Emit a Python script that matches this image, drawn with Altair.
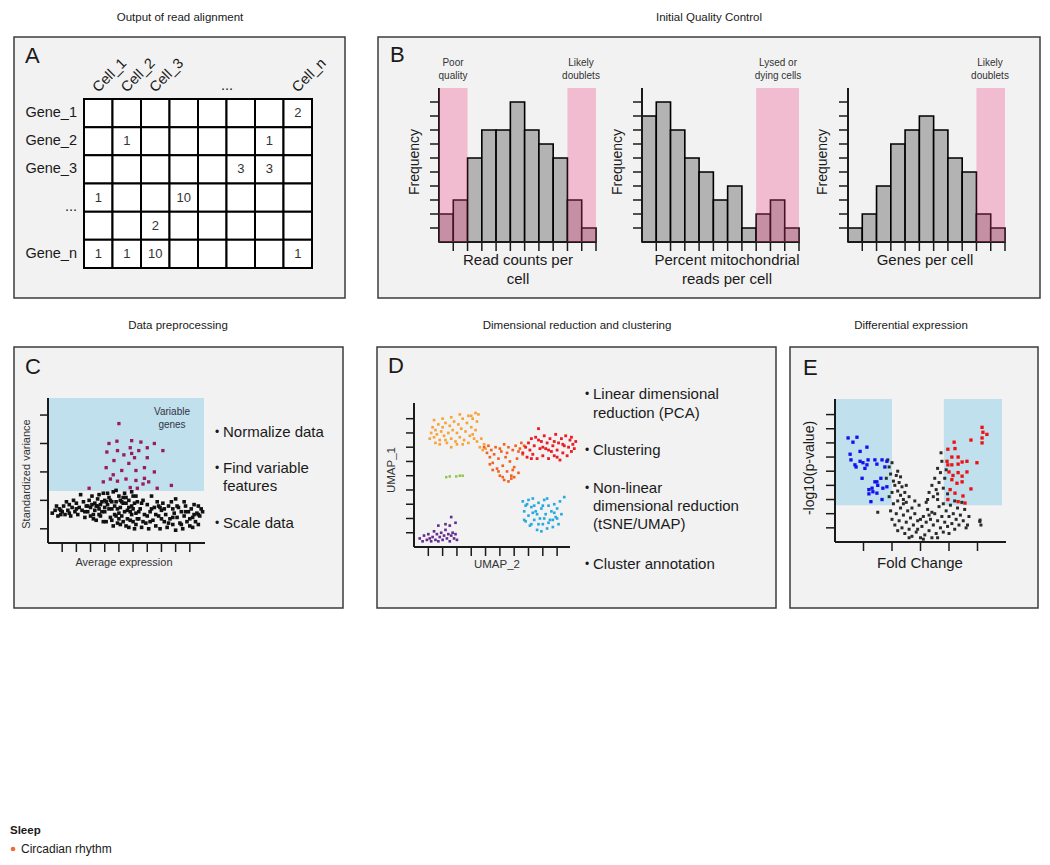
import altair as alt
import pandas as pd

FONT = "Liberation Sans"
INK = "#1a1a1a"

# ---------------- Panel A: count matrix ----------------
row_ids = ["r1", "r2", "r3", "r4", "r5", "r6"]
row_labels = ["Gene_1", "Gene_2", "Gene_3", "...", "", "Gene_n"]
col_ids = ["c1", "c2", "c3", "c4", "c5", "c6", "c7", "c8"]
col_labels = ["Cell_1", "Cell_2", "Cell_3", "", "", "", "", "Cell_n"]
count_rows = ["r1", "r2", "r2", "r3", "r3", "r4", "r4", "r5", "r6", "r6", "r6", "r6"]
count_cols = ["c8", "c2", "c7", "c6", "c7", "c1", "c4", "c3", "c1", "c2", "c3", "c8"]
count_vals = [2, 1, 1, 3, 3, 1, 10, 2, 1, 1, 10, 1]

# ---------------- Panel B: QC histograms ----------------
read_counts_hist = [2, 3, 6, 8, 8, 10, 8, 7, 6, 3, 1]
mito_hist = [9, 10, 8, 6, 5, 3, 4, 1, 2, 3, 1]
genes_hist = [1, 2, 4, 7, 8, 9, 8, 6, 5, 2, 1]
read_counts_flags = [(0, 2), (9, 11)]
mito_flags = [(8, 11)]
genes_flags = [(9, 11)]

# ---------------- Panel C: variable features ----------------
c_variable = [(5.0, 8.4), (4.86, 7.16), (4.3, 7.0), (4.15, 6.4), (4.9, 6.5), (5.35, 6.2), (4.65, 5.8),
              (5.9, 7.2), (5.8, 6.7), (5.9, 6.3), (6.1, 6.0), (6.55, 7.1), (6.4, 6.5), (7.0, 6.7),
              (7.5, 7.0), (7.0, 6.0), (8.1, 6.5), (5.7, 5.6), (4.1, 5.3), (5.2, 5.1), (6.2, 5.1),
              (6.8, 5.3), (7.5, 5.0), (4.6, 4.8), (3.9, 4.3), (4.4, 4.5), (4.9, 4.35), (5.5, 4.5),
              (6.2, 4.4), (6.8, 4.55), (7.1, 4.3), (6.7, 4.15), (5.8, 3.9), (2.9, 3.85), (7.7, 3.85),
              (8.7, 4.05), (6.3, 3.85)]
c_other = [(0.3, 2.1), (0.5, 2.3), (0.7, 1.9), (0.8, 2.4), (1.0, 2.2), (1.1, 2.6), (1.2, 2.0), (1.4, 2.3),
           (1.5, 2.7), (1.6, 1.9), (1.7, 2.5), (1.9, 2.2), (2.0, 2.8), (2.1, 2.0), (2.2, 2.5), (2.4, 2.3),
           (2.5, 2.9), (2.6, 1.8), (2.7, 2.6), (1.3, 2.9), (0.9, 2.0), (1.8, 3.0), (2.3, 3.4), (0.6, 2.6),
           (2.8, 2.2), (2.9, 3.0), (3.0, 2.5), (3.1, 3.3), (3.2, 2.0), (3.3, 2.8), (3.4, 1.6), (3.5, 3.1),
           (3.6, 2.4), (3.7, 1.9), (3.8, 2.9), (3.9, 3.5), (4.0, 2.2), (4.1, 1.5), (4.2, 2.7), (4.3, 3.2),
           (4.4, 1.8), (4.5, 2.4), (4.6, 3.6), (4.7, 2.0), (4.8, 2.9), (4.9, 1.4), (5.0, 3.3), (5.1, 2.5),
           (5.2, 1.9), (5.3, 2.8), (5.4, 3.5), (5.5, 1.2), (5.6, 2.3), (5.7, 3.0), (5.8, 1.6), (5.9, 2.6),
           (6.0, 3.3), (6.1, 1.0), (6.2, 2.1), (6.3, 2.9), (3.5, 2.6), (4.0, 3.0), (4.5, 1.6), (5.0, 2.1),
           (5.5, 2.8), (6.0, 1.5), (3.2, 1.7), (4.8, 3.7), (5.7, 1.1), (6.2, 1.3), (4.3, 2.4), (5.3, 1.5),
           (3.8, 2.2), (5.9, 3.6), (4.6, 1.2), (5.1, 3.0), (6.4, 1.7), (6.5, 2.4), (6.6, 1.1), (6.7, 3.0),
           (6.8, 2.0), (6.9, 1.4), (7.0, 2.7), (7.1, 1.0), (7.2, 2.2), (7.3, 3.3), (7.4, 1.6), (7.5, 2.5),
           (7.6, 1.2), (7.7, 2.9), (7.8, 1.9), (7.9, 1.0), (8.0, 2.3), (8.1, 2.8), (8.2, 1.5), (8.3, 2.0),
           (8.4, 1.1), (8.5, 2.6), (8.6, 1.7), (8.7, 2.9), (8.8, 1.3), (8.9, 2.1), (9.0, 0.9), (9.1, 1.8),
           (9.2, 2.5), (9.3, 1.4), (9.4, 2.2), (9.5, 1.0), (9.6, 1.9), (9.7, 2.6), (9.8, 1.5), (9.9, 2.2),
           (10.0, 1.2), (10.1, 2.4), (10.2, 1.8), (10.3, 2.7), (10.4, 1.5), (10.5, 2.1), (10.6, 2.6),
           (10.7, 1.9), (10.8, 2.4), (10.9, 2.2), (7.2, 1.5), (8.0, 1.7), (8.8, 2.4), (9.6, 2.9),
           (10.2, 1.1), (7.8, 2.6), (9.0, 3.1), (6.6, 2.8), (10.6, 1.3),
           (3.0, 1.9), (3.3, 2.3), (3.6, 3.4), (3.9, 1.5), (4.2, 3.5), (4.5, 2.9), (4.8, 1.9), (5.1, 1.3),
           (5.4, 2.2), (5.7, 2.5), (6.0, 2.4), (6.3, 1.7), (4.4, 3.0), (4.7, 2.6), (5.0, 1.7), (5.3, 3.2),
           (5.6, 1.7), (5.9, 2.0), (6.2, 3.3), (3.6, 2.0), (3.4, 2.6), (4.1, 2.9), (4.9, 2.4), (5.2, 2.9),
           (5.5, 3.2), (5.8, 2.2), (6.1, 2.8), (6.4, 2.2), (6.7, 1.5), (7.0, 1.9), (7.3, 2.4), (7.6, 2.0),
           (7.9, 2.5), (8.2, 2.4), (8.5, 1.4), (8.8, 1.8), (9.1, 2.6), (9.4, 1.3), (9.7, 2.2), (10.0, 1.7),
           (10.3, 2.0), (10.6, 2.0), (2.0, 2.4), (1.5, 2.1), (0.9, 2.3), (2.6, 2.2), (2.8, 2.6), (3.1, 2.7),
           (3.7, 2.7), (4.0, 2.5)]
c_threshold = 3.65

# ---------------- Panel D: UMAP clusters ----------------
d_orange = [(1.2, 8.0), (1.3, 8.4), (1.4, 7.7), (1.5, 8.2), (1.6, 7.9), (1.7, 8.6), (1.8, 7.5), (1.9, 8.1),
            (2.0, 8.4), (2.1, 7.8), (2.2, 8.7), (2.3, 7.3), (2.4, 8.0), (2.5, 8.5), (2.6, 7.6), (2.7, 8.2),
            (2.8, 8.8), (2.9, 7.4), (3.0, 8.0), (3.1, 8.6), (3.2, 7.7), (3.3, 8.3), (3.4, 9.0), (3.5, 7.5),
            (3.6, 8.1), (3.7, 8.7), (3.8, 9.2), (3.9, 7.8), (4.0, 8.4), (4.1, 9.0), (4.2, 7.6), (4.3, 8.2),
            (4.4, 8.8), (4.5, 9.3), (4.3, 9.4), (4.0, 9.2), (1.4, 8.9), (2.0, 9.0), (2.6, 9.1), (3.2, 9.3),
            (1.8, 7.2), (2.6, 7.0), (3.4, 7.2), (4.4, 7.4), (4.6, 7.0), (4.8, 6.8), (4.9, 7.2), (5.0, 6.9),
            (4.7, 7.6), (1.1, 7.6), (1.5, 7.3), (3.0, 7.2), (3.8, 7.3), (2.2, 7.5), (4.1, 7.9)]
d_redorange = [(4.9, 7.0), (5.1, 6.6), (5.2, 7.1), (5.3, 6.3), (5.4, 6.8), (5.5, 5.9), (5.6, 6.5), (5.7, 7.0),
               (5.8, 5.5), (5.9, 6.2), (6.0, 5.0), (6.1, 6.7), (6.2, 5.7), (6.3, 4.7), (6.4, 6.3), (6.5, 5.3),
               (6.6, 4.6), (6.7, 6.0), (6.8, 5.0), (6.9, 6.8), (7.0, 5.6), (7.1, 7.1), (7.2, 6.2), (7.3, 5.2),
               (7.4, 6.9), (7.5, 7.3), (7.6, 6.5), (7.7, 7.1), (6.0, 6.9), (6.3, 7.2), (6.6, 7.0), (5.5, 5.4),
               (6.8, 4.8), (7.0, 4.9), (5.9, 5.3), (6.5, 6.6), (6.2, 4.9), (6.9, 5.4), (5.3, 5.8), (7.3, 6.7)]
d_red = [(7.6, 6.6), (7.8, 7.0), (7.9, 6.3), (8.0, 7.3), (8.1, 6.8), (8.2, 7.6), (8.3, 6.5), (8.4, 7.1),
         (8.5, 7.7), (8.6, 6.2), (8.7, 8.3), (8.8, 6.9), (8.9, 7.4), (9.0, 6.4), (9.1, 7.8), (9.2, 6.9),
         (9.3, 7.3), (9.4, 6.2), (9.5, 7.6), (9.6, 6.7), (9.7, 7.1), (9.8, 6.4), (9.9, 7.9), (10.0, 6.8),
         (10.1, 7.3), (10.2, 6.1), (10.3, 7.6), (10.4, 6.6), (10.5, 7.1), (10.6, 7.8), (10.7, 6.4),
         (10.8, 7.0), (10.9, 7.5), (11.0, 6.7), (11.1, 7.2), (11.2, 6.9), (11.3, 7.4), (8.2, 6.2),
         (9.0, 7.0), (9.8, 7.4), (10.4, 7.2), (10.0, 6.3), (8.7, 7.5), (9.4, 6.8), (11.0, 7.7)]
d_green = [(2.25, 4.9), (2.5, 4.95), (2.95, 4.95), (3.2, 5.0), (3.4, 5.0)]
d_blue = [(7.6, 3.2), (7.7, 2.5), (7.8, 1.8), (7.9, 3.0), (8.0, 2.2), (8.1, 1.5), (8.2, 2.8), (8.3, 3.4),
          (8.4, 1.9), (8.5, 2.5), (8.6, 1.2), (8.7, 3.1), (8.8, 2.0), (8.9, 2.7), (9.0, 1.6), (9.1, 3.3),
          (9.2, 2.3), (9.3, 1.3), (9.4, 2.9), (9.5, 1.9), (9.6, 2.5), (9.7, 1.4), (9.8, 3.0), (9.9, 2.1),
          (10.0, 2.7), (10.1, 1.6), (10.2, 3.2), (10.3, 2.3), (10.5, 3.5), (7.8, 2.9), (8.2, 1.6),
          (8.6, 2.3), (9.0, 2.9), (9.4, 1.7), (9.8, 2.4), (8.0, 3.3), (8.4, 2.9), (8.9, 1.1), (9.3, 3.4),
          (9.7, 1.9), (7.7, 1.9), (8.3, 2.4), (9.1, 2.0), (10.0, 2.0), (8.7, 1.6)]
d_purple = [(0.4, 0.6), (0.6, 0.4), (0.7, 0.8), (0.9, 0.5), (1.0, 0.9), (1.2, 0.4), (1.3, 0.7), (1.4, 1.1),
            (1.5, 0.5), (1.6, 0.9), (1.7, 0.4), (1.8, 0.7), (1.9, 1.0), (2.0, 0.5), (2.1, 0.8), (2.2, 1.2),
            (2.3, 0.6), (2.4, 0.9), (2.5, 0.4), (2.6, 0.8), (2.8, 0.6), (2.9, 0.9), (3.0, 0.5), (1.7, 1.5),
            (2.2, 1.6), (2.5, 1.5), (2.9, 1.7), (2.6, 2.1), (1.1, 0.6), (2.7, 1.0)]

# ---------------- Panel E: volcano ----------------
e_down = [(0.46, 7.35), (0.77, 7.40), (0.63, 7.05), (0.88, 6.40), (1.12, 6.70), (0.53, 6.20), (0.56, 5.80),
          (0.70, 5.45), (0.88, 5.70), (0.98, 5.60), (1.12, 5.45), (1.16, 5.80), (1.40, 5.80), (1.47, 5.50),
          (1.65, 5.80), (1.82, 5.70), (1.75, 5.30), (0.95, 4.50), (1.40, 4.25), (1.50, 4.00), (1.61, 4.50),
          (1.68, 3.80), (1.19, 3.70), (1.33, 3.55), (1.47, 3.45), (1.19, 3.40), (1.30, 3.80), (1.65, 3.00),
          (1.26, 2.85), (1.82, 3.90), (1.47, 4.25), (0.74, 5.30), (1.05, 5.20)]
e_up = [(5.16, 8.10), (5.19, 7.75), (5.33, 7.60), (5.16, 7.35), (5.16, 7.00), (4.77, 7.20), (4.18, 7.05),
        (4.21, 6.60), (3.96, 6.55), (4.10, 6.00), (4.32, 6.00), (3.93, 5.70), (4.10, 5.45), (4.32, 5.50),
        (4.46, 5.65), (4.63, 5.70), (4.98, 5.60), (4.00, 4.95), (4.14, 4.70), (4.32, 4.90), (4.46, 4.65),
        (4.63, 4.95), (4.10, 4.40), (4.28, 4.15), (4.46, 4.25), (4.77, 3.75), (4.04, 3.70), (4.49, 3.25),
        (3.96, 3.00), (4.32, 2.85), (4.56, 2.75), (4.21, 3.45), (3.96, 5.45)]
e_ns = [(1.85, 5.8), (1.9, 5.3), (1.95, 4.8), (2.0, 5.6), (2.05, 4.3), (2.1, 4.0), (2.15, 4.7), (2.2, 3.6),
        (2.25, 4.2), (2.3, 3.3), (2.35, 3.9), (2.4, 3.0), (2.45, 3.5), (2.5, 2.8), (2.0, 3.5), (1.9, 3.2),
        (2.3, 4.6), (2.6, 3.2), (1.8, 4.5), (2.5, 4.0), (2.2, 5.0), (1.5, 2.1),
        (1.95, 2.2), (2.0, 1.6), (2.05, 2.7), (2.1, 1.2), (2.15, 2.0), (2.2, 0.8), (2.25, 1.5), (2.3, 2.4),
        (2.35, 1.0), (2.4, 1.9), (2.45, 0.6), (2.5, 1.4), (2.55, 2.2), (2.6, 0.9), (2.65, 1.7), (2.7, 0.4),
        (2.75, 1.2), (2.8, 2.0), (2.85, 0.7), (2.9, 1.5), (2.95, 2.6), (3.0, 0.3), (3.05, 1.1), (3.1, 1.8),
        (3.15, 0.5), (3.2, 1.4), (3.25, 2.3), (3.3, 0.8), (3.35, 1.6), (3.4, 0.3), (3.45, 1.2), (3.5, 2.0),
        (3.55, 0.6), (3.6, 1.5), (3.65, 2.5), (3.7, 1.0), (3.75, 1.8), (3.8, 0.7), (3.85, 1.4), (3.9, 2.2),
        (3.95, 1.1), (4.0, 1.8), (4.05, 2.6), (4.1, 1.3), (4.15, 2.0), (4.2, 0.9), (4.25, 1.6), (4.3, 2.4),
        (4.35, 1.2), (4.4, 1.9), (4.45, 2.8), (4.5, 1.5), (4.55, 2.3), (4.6, 1.0), (2.4, 2.7), (2.8, 2.9),
        (3.2, 2.8), (3.6, 3.0), (2.6, 0.3), (3.0, 1.6), (3.4, 2.1), (3.8, 2.7), (4.2, 2.9), (3.1, 0.2),
        (2.9, 0.9), (3.6, 0.3), (2.7, 2.4), (4.7, 1.8), (4.65, 1.2), (3.3, 1.9), (2.2, 2.9), (4.0, 0.6),
        (3.72, 6.3), (3.75, 5.7), (3.6, 5.2), (3.7, 4.9), (3.5, 4.5), (3.65, 4.2), (3.4, 4.0), (3.55, 3.7),
        (3.3, 3.5), (3.8, 3.8), (3.45, 3.2), (3.85, 4.5), (3.9, 5.1), (3.6, 3.4), (3.25, 3.0), (3.95, 3.4),
        (5.09, 1.55), (5.12, 1.2), (5.08, 1.45)]
e_sig_y = 2.6
e_fc_low = 2.0
e_fc_high = 3.82

legend_title = "Sleep"
legend_items = ["Circadian rhythm"]

# ======================= helpers =======================
ONE = pd.DataFrame({"k": [0]})


def text(s, x, y, size=12, align="center", baseline="middle", angle=0, weight="normal", color=INK):
    return alt.Chart(ONE).mark_text(
        text=s, font=FONT, fontSize=size, align=align, baseline=baseline,
        angle=angle, fontWeight=weight, color=color
    ).encode(x=alt.value(x), y=alt.value(y))


def box(x1, y1, x2, y2):
    return alt.Chart(ONE).mark_rect(fill="#f2f2f2", stroke="#3c3c3c", strokeWidth=1.5).encode(
        x=alt.value(x1), x2=alt.value(x2), y=alt.value(y1), y2=alt.value(y2))


def line(x1, y1, x2, y2, w=2.0):
    return alt.Chart(ONE).mark_rule(color=INK, strokeWidth=w).encode(
        x=alt.value(x1), x2=alt.value(x2), y=alt.value(y1), y2=alt.value(y2))


def sc(domain, rng):
    return alt.Scale(domain=domain, range=rng, nice=False, zero=False)


def xticks(vals, xs, y1, y2, w=1.5):
    return alt.Chart(pd.DataFrame({"t": vals})).mark_rule(color=INK, strokeWidth=w).encode(
        x=alt.X("t:Q", scale=xs, axis=None), y=alt.value(y1), y2=alt.value(y2))


def yticks(vals, ys, x1, x2, w=1.5):
    return alt.Chart(pd.DataFrame({"t": vals})).mark_rule(color=INK, strokeWidth=w).encode(
        y=alt.Y("t:Q", scale=ys, axis=None), x=alt.value(x1), x2=alt.value(x2))


def points(pairs, color, xs, ys, size=8):
    df = pd.DataFrame(pairs, columns=["x", "y"])
    return alt.Chart(df).mark_square(size=size, color=color, opacity=1, strokeWidth=0).encode(
        x=alt.X("x:Q", scale=xs, axis=None), y=alt.Y("y:Q", scale=ys, axis=None))


def region(x0, x1, y0, y1, xs, ys, color, opacity=1.0):
    df = pd.DataFrame({"x0": [x0], "x1": [x1], "y0": [y0], "y1": [y1]})
    return alt.Chart(df).mark_rect(color=color, opacity=opacity, strokeWidth=0).encode(
        x=alt.X("x0:Q", scale=xs, axis=None), x2="x1:Q",
        y=alt.Y("y0:Q", scale=ys, axis=None), y2="y1:Q")


def hist(counts, xs, ys):
    df = pd.DataFrame({"bin": list(range(len(counts))), "count": counts})
    return alt.Chart(df).transform_calculate(b1="datum.bin + 1", zero="0").mark_rect(
        fill="#b3b3b3", stroke="#000000", strokeWidth=1.6).encode(
        x=alt.X("bin:Q", scale=xs, axis=None), x2="b1:Q",
        y=alt.Y("count:Q", scale=ys, axis=None), y2="zero:Q")


layers = []

# ---------------- panel titles ----------------
layers += [
    text("Output of read alignment", 172, 10, 11.5),
    text("Initial Quality Control", 701, 10, 11.5),
    text("Data preprocessing", 170, 318, 11.5),
    text("Dimensional reduction and clustering", 569, 318, 11.5),
    text("Differential expression", 903, 318, 11.5),
]

# ---------------- Panel A ----------------
layers += [box(6, 29, 337, 290), text("A", 17, 48, 22, align="left")]
mx = alt.Scale(domain=col_ids, range=[76, 304], paddingInner=0, paddingOuter=0)
my = alt.Scale(domain=row_ids, range=[91, 260], paddingInner=0, paddingOuter=0)
grid = pd.DataFrame([(r, c) for r in row_ids for c in col_ids], columns=["row", "col"])
layers.append(alt.Chart(grid).mark_rect(fill="white", stroke="#000000", strokeWidth=2).encode(
    x=alt.X("col:N", scale=mx, axis=None), y=alt.Y("row:N", scale=my, axis=None)))
vals_df = pd.DataFrame({"row": count_rows, "col": count_cols, "val": count_vals})
layers.append(alt.Chart(vals_df).mark_text(font=FONT, fontSize=13, color="#333333").encode(
    x=alt.X("col:N", scale=mx, axis=None), y=alt.Y("row:N", scale=my, axis=None), text="val:Q"))
rl = pd.DataFrame({"row": row_ids, "label": row_labels})
rl_main = rl[(rl["label"] != "") & (rl["label"] != "...")]
layers.append(alt.Chart(rl_main).mark_text(font=FONT, fontSize=14.5, align="right", color=INK).encode(
    x=alt.value(69), y=alt.Y("row:N", scale=my, axis=None), text="label:N"))
rl_dots = rl[rl["label"] == "..."]
layers.append(alt.Chart(rl_dots).mark_text(font=FONT, fontSize=14.5, align="right", baseline="alphabetic",
                                           dy=13, color=INK).encode(
    x=alt.value(69), y=alt.Y("row:N", scale=my, axis=None), text="label:N"))
cl = pd.DataFrame({"col": col_ids, "label": col_labels})
cl = cl[cl["label"] != ""]
layers.append(alt.Chart(cl).mark_text(font=FONT, fontSize=14.5, align="left", baseline="alphabetic",
                                      angle=315, color=INK).encode(
    x=alt.X("col:N", scale=mx, axis=None), y=alt.value(85), text="label:N"))
layers.append(text("...", 219, 82, 14.5, baseline="alphabetic"))

# ---------------- Panel B ----------------
layers += [box(370, 29, 1032, 290), text("B", 382, 47, 22, align="left")]
hy = sc([0, 11], [234, 80])


def qc_hist(counts, flags, x0, x1, lab_lines, lab_x, title_lines, title_x, freq_x):
    xs = sc([0, 11], [x0, x1])
    out = [hist(counts, xs, hy),
           line(x0, 234, x0, 80, 2), line(x0, 234, x1, 234, 2),
           yticks(list(range(1, 11)), hy, x0 - 9, x0),
           xticks(list(range(1, 12)), xs, 234, 243)]
    for s, e in flags:
        out.append(region(s, e, 0, 11, xs, hy, "#ed3b81", 0.3))
    for i, s in enumerate(lab_lines):
        out.append(text(s, lab_x, 55 + 13 * i, 10, color="#333333"))
    for i, s in enumerate(title_lines):
        out.append(text(s, title_x, 252 + 19 * i, 15))
    out.append(text("Frequency", freq_x, 154, 14, angle=270))
    return out


layers += qc_hist(read_counts_hist, read_counts_flags, 431, 588, [], 0, ["Read counts per", "cell"], 510, 407)
layers += [text("Poor", 445, 55, 10, color="#333333"), text("quality", 445, 68, 10, color="#333333"),
           text("Likely", 573, 55, 10, color="#333333"), text("doublets", 573, 68, 10, color="#333333")]
layers += qc_hist(mito_hist, mito_flags, 634, 791, ["Lysed or", "dying cells"], 770,
                  ["Percent mitochondrial", "reads per cell"], 719, 610)
layers += qc_hist(genes_hist, genes_flags, 840, 997, ["Likely", "doublets"], 982, ["Genes per cell"], 917, 815)

# ---------------- Panel C ----------------
layers += [box(6, 339, 335, 600), text("C", 17, 359, 22, align="left")]
cx = sc([0, 11], [40, 196])
cy = sc([0, 10.2], [535, 390])
layers += [
    region(0.05, 11, c_threshold, 10.2, cx, cy, "#bfe0ec"),
    points(c_other, "#111111", cx, cy, 13),
    points(c_variable, "#9b1b5e", cx, cy, 11),
    line(40, 535, 40, 390, 2), line(40, 535, 197, 535, 2),
    yticks([1, 3, 5, 7, 9], cy, 32, 40),
    xticks(list(range(1, 11)), cx, 535, 544),
    text("Variable", 164, 404, 10, color="#333344"),
    text("genes", 164, 417, 10, color="#333344"),
    text("Average expression", 116, 555, 11, color="#333333"),
    text("Standardized variance", 19, 466, 11, angle=270, color="#333333"),
]
for s, y in [("Normalize data", 424), ("Find variable", 460), ("Scale data", 515)]:
    layers += [text("•", 209, y, 12), text(s, 215, y, 15, align="left")]
layers.append(text("features", 215, 478, 15, align="left"))

# ---------------- Panel D ----------------
layers += [box(369, 339, 768, 600), text("D", 380, 358, 22, align="left")]
dx = sc([0, 10.9], [406, 562])
dy_ = sc([0, 10.1], [539, 395])
layers += [
    points(d_orange, "#f8a23a", dx, dy_, 7),
    points(d_redorange, "#f26322", dx, dy_, 7),
    points(d_red, "#ec1c24", dx, dy_, 8),
    points(d_green, "#8dc63f", dx, dy_, 6),
    points(d_blue, "#27aae1", dx, dy_, 7),
    points(d_purple, "#662d91", dx, dy_, 7),
    line(406, 539, 406, 395, 2), line(406, 539, 562, 539, 2),
    yticks(list(range(1, 10)), dy_, 398, 406),
    xticks(list(range(1, 11)), dx, 539, 548),
    text("UMAP_2", 489, 557, 11.5, color="#333333"),
    text("UMAP_1", 384, 462, 11.5, angle=270, color="#333333"),
]
d_lines = [("Linear dimensional", 386, True), ("reduction (PCA)", 405, False), ("Clustering", 442, True),
           ("Non-linear", 480, True), ("dimensional reduction", 498, False), ("(tSNE/UMAP)", 516, False),
           ("Cluster annotation", 556, True)]
for s, y, b in d_lines:
    if b:
        layers.append(text("•", 579, y, 12))
    layers.append(text(s, 585, y, 15, align="left"))

# ---------------- Panel E ----------------
layers += [box(782, 339, 1030, 600), text("E", 795, 360, 22, align="left")]
ex = sc([0, 6], [827, 998])
ey = sc([0, 10.1], [534, 391])
layers += [
    region(0.03, e_fc_low, e_sig_y, 10.1, ex, ey, "#bfe0ec"),
    region(e_fc_high, 5.86, e_sig_y, 10.1, ex, ey, "#bfe0ec"),
    points(e_ns, "#2b2b2b", ex, ey, 9),
    points(e_down, "#1010f0", ex, ey, 11),
    points(e_up, "#f01010", ex, ey, 11),
    line(827, 534, 827, 391, 2), line(827, 534, 998, 534, 2),
    yticks(list(range(1, 10)), ey, 818, 827),
    xticks([1, 2, 3, 4, 5], ex, 534, 543),
    text("Fold Change", 912, 555, 15),
    text("-log10(p-value)", 802, 460, 14, angle=270),
]

# ---------------- legend ----------------
leg = pd.DataFrame({"term": legend_items})
layers += [
    text(legend_title, 2, 823, 11.5, align="left", weight="bold"),
    alt.Chart(leg).mark_circle(size=22, color="#f26b38", opacity=1).encode(x=alt.value(5), y=alt.value(841)),
    alt.Chart(leg).mark_text(font=FONT, fontSize=12, align="left", color=INK).encode(
        x=alt.value(13), y=alt.value(841), text="term:N"),
]

chart = alt.layer(*layers).resolve_scale(x="independent", y="independent").properties(
    width=1034, height=849, autosize=alt.AutoSizeParams(type="none"), padding=0
).configure_view(strokeWidth=0)

chart.save("out.html", embed_options={"renderer": "svg", "actions": False})
